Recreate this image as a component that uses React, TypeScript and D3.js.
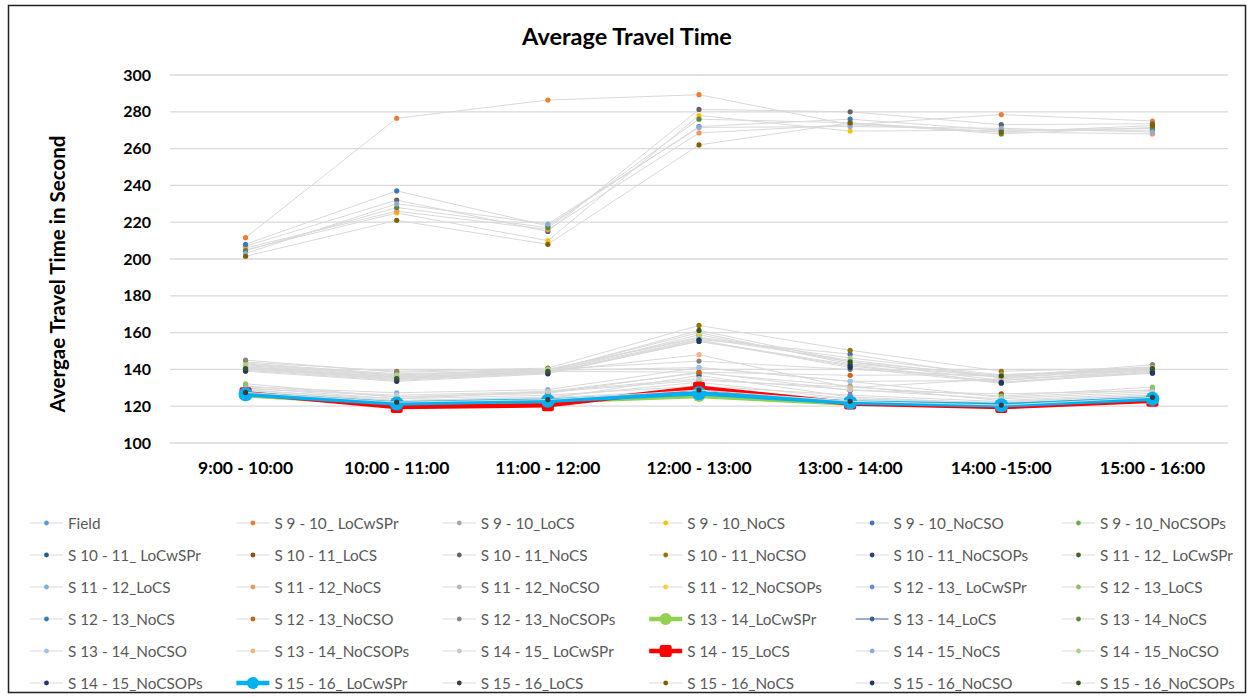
import React from "react";
import * as d3 from "d3";

// Hour slots along the x axis
const categories = [
  "9:00 - 10:00",
  "10:00 - 11:00",
  "11:00 - 12:00",
  "12:00 - 13:00",
  "13:00 - 14:00",
  "14:00 -15:00",
  "15:00 - 16:00",
];

const yTicks = [100, 120, 140, 160, 180, 200, 220, 240, 260, 280, 300];

// Series names, in legend order
const seriesNames = [
  "Field",
  "S 9 - 10_ LoCwSPr",
  "S 9 - 10_LoCS",
  "S 9 - 10_NoCS",
  "S 9 - 10_NoCSO",
  "S 9 - 10_NoCSOPs",
  "S 10 - 11_ LoCwSPr",
  "S 10 - 11_LoCS",
  "S 10 - 11_NoCS",
  "S 10 - 11_NoCSO",
  "S 10 - 11_NoCSOPs",
  "S 11 - 12_ LoCwSPr",
  "S 11 - 12_LoCS",
  "S 11 - 12_NoCS",
  "S 11 - 12_NoCSO",
  "S 11 - 12_NoCSOPs",
  "S 12 - 13_ LoCwSPr",
  "S 12 - 13_LoCS",
  "S 12 - 13_NoCS",
  "S 12 - 13_NoCSO",
  "S 12 - 13_NoCSOPs",
  "S 13 - 14_LoCwSPr",
  "S 13 - 14_LoCS",
  "S 13 - 14_NoCS",
  "S 13 - 14_NoCSO",
  "S 13 - 14_NoCSOPs",
  "S 14 - 15_ LoCwSPr",
  "S 14 - 15_LoCS",
  "S 14 - 15_NoCS",
  "S 14 - 15_NoCSO",
  "S 14 - 15_NoCSOPs",
  "S 15 - 16_ LoCwSPr",
  "S 15 - 16_LoCS",
  "S 15 - 16_NoCS",
  "S 15 - 16_NoCSO",
  "S 15 - 16_NoCSOPs",
];

// Average travel time (s) per hour slot, one row per series (same order as names)
const seriesValues: number[][] = [
  [129, 123, 125, 133, 124, 122, 126],
  [211.6, 276.5, 286.4, 289.3, 273, 278.5, 275],
  [130, 124, 128, 138, 131, 123, 127],
  [205, 225, 210, 278, 269.5, 270, 271],
  [141, 135.8, 139, 156.3, 148.3, 135.3, 140],
  [140.5, 135, 138.5, 158.8, 144, 134, 139.5],
  [128, 122.5, 124, 136.7, 125, 121.5, 125],
  [131, 125, 127, 138.5, 128.6, 126.7, 128.6],
  [207, 232, 215, 281.3, 280, 273, 273.5],
  [144, 139, 140.7, 163.9, 150.4, 139, 141],
  [139.5, 134, 138, 155.2, 141.9, 133, 139],
  [127.5, 123, 124.5, 129, 124, 121, 125.5],
  [130.5, 127.3, 129, 141, 133.5, 124.8, 129],
  [206, 226, 216, 268.5, 273, 269, 268],
  [143, 137, 140, 157, 145, 135.5, 140.5],
  [143.4, 137.6, 139.4, 160, 143, 136, 141.5],
  [128.5, 124, 126, 131, 126, 122.5, 126],
  [132.2, 125, 127.6, 134, 130.4, 125.5, 130.4],
  [208, 237, 218, 272, 276, 270, 270],
  [141.5, 136, 139, 138.5, 136.8, 137.2, 139.4],
  [145, 138.5, 140, 144.5, 140, 136, 142.6],
  [126, 121, 122.5, 125.5, 121.5, 120.5, 123.5],
  [127, 122, 123.5, 127.5, 122.5, 121, 124.5],
  [204.5, 228, 217, 276, 274, 268, 271.5],
  [142, 136.5, 139.5, 141, 133.5, 134, 140],
  [141, 135.5, 138.8, 148, 130, 135, 138],
  [129.5, 126, 128, 135, 129, 124, 128],
  [127, 119.5, 120.5, 130, 121.5, 119.5, 123],
  [203, 230, 219, 271.5, 272, 271, 269],
  [142.5, 137, 140, 157.5, 146.2, 137, 141],
  [140, 134.5, 138.2, 156, 141, 132.5, 138.5],
  [126.5, 121.5, 123, 127, 122, 120.5, 124],
  [127.5, 122.2, 123.6, 128.8, 122.7, 120.6, 124.8],
  [201.5, 221, 208, 262, 274, 269, 272.5],
  [139, 133.5, 137.6, 155.5, 142.5, 133, 137.9],
  [140.5, 135, 139, 161.2, 144.1, 136.5, 140.5],
];

// Marker colours (Office palette cycle)
const seriesColors = [
  "#5B9BD5", "#ED7D31", "#A5A5A5", "#FFC000", "#4472C4", "#70AD47",
  "#255E91", "#9E480E", "#636363", "#997300", "#264478", "#43682B",
  "#7CAFDD", "#F1975A", "#B7B7B7", "#FFCD33", "#698ED0", "#8CC168",
  "#327DC2", "#D26012", "#848484", "#92D050", "#3A5DA0", "#5A8A39",
  "#9DC3E6", "#F4B183", "#C9C9C9", "#FF0000", "#8FAADC", "#A9D18E",
  "#1F3864", "#00B0F0", "#3B3B3B", "#7F6000", "#203864", "#375623",
];

type Style = { line: string; width: number; marker: "circle" | "square"; size: number };

function styleFor(i: number): Style {
  const name = seriesNames[i];
  if (name === "S 13 - 14_LoCwSPr") return { line: "#92D050", width: 4.5, marker: "circle", size: 6 };
  if (name === "S 14 - 15_LoCS") return { line: "#FF0000", width: 4.5, marker: "square", size: 12 };
  if (name === "S 15 - 16_ LoCwSPr") return { line: "#00B0F0", width: 4.5, marker: "circle", size: 7 };
  if (name === "S 13 - 14_LoCS") return { line: "#3A5DA0", width: 1, marker: "circle", size: 2.6 };
  return { line: "#D9D9D9", width: 1, marker: "circle", size: 2.6 };
}

const W = 1249;
const H = 698;
const plot = { left: 170, right: 1228, top: 75, bottom: 443 };

export default function App() {
  const x = d3
    .scalePoint<string>()
    .domain(categories)
    .range([plot.left, plot.right])
    .padding(0.5);
  const y = d3.scaleLinear().domain([100, 300]).range([plot.bottom, plot.top]);
  const line = d3
    .line<number>()
    .x((_, j) => x(categories[j]) as number)
    .y((v) => y(v));

  const font = "Lato, 'Open Sans', sans-serif";
  const legendCols = 6;
  const legendX0 = 30;
  const legendDX = 206.4;
  const legendY0 = 523;
  const legendDY = 32;

  const marker = (st: Style, cx: number, cy: number, color: string, key: string | number) =>
    st.marker === "square" ? (
      <rect
        key={key}
        x={cx - st.size / 2}
        y={cy - st.size / 2}
        width={st.size}
        height={st.size}
        rx={2}
        fill={color}
      />
    ) : (
      <circle key={key} cx={cx} cy={cy} r={st.size} fill={color} />
    );

  return (
    <svg
      width={W}
      height={H}
      style={{ position: "absolute", left: 0, top: 0, background: "#fff" }}
      fontFamily={font}
    >
      <rect x={0} y={0} width={W} height={H} fill="#fff" />
      <rect x={8.5} y={5.5} width={1237} height={687} fill="none" stroke="#222" strokeWidth={1.5} />

      <text x={627} y={45} textAnchor="middle" fontSize={23.5} fontWeight={700} fill="#000">
        Average Travel Time
      </text>

      {/* grid and y ticks */}
      {yTicks.map((t) => (
        <g key={t}>
          <line x1={plot.left} x2={plot.right} y1={y(t)} y2={y(t)} stroke="#D9D9D9" strokeWidth={1.3} />
          <text x={151} y={y(t) + 5.5} textAnchor="end" fontSize={16} fontWeight={700} fill="#000">
            {t}
          </text>
        </g>
      ))}

      <text
        transform={`translate(65,${274}) rotate(-90)`}
        textAnchor="middle"
        fontSize={20.5}
        fontWeight={700}
        fill="#000"
      >
        Avergae Travel Time in Second
      </text>

      {categories.map((c) => (
        <text key={c} x={x(c)} y={474} textAnchor="middle" fontSize={17.5} fontWeight={700} fill="#000">
          {c}
        </text>
      ))}

      {/* series: line then markers, drawn in series order */}
      {seriesValues.map((vals, i) => {
        const st = styleFor(i);
        return (
          <g key={seriesNames[i]}>
            <path d={line(vals) || ""} fill="none" stroke={st.line} strokeWidth={st.width} strokeLinejoin="round" />
            {vals.map((v, j) => marker(st, x(categories[j]) as number, y(v), seriesColors[i], j))}
          </g>
        );
      })}

      {/* legend */}
      {seriesNames.map((name, i) => {
        const col = i % legendCols;
        const row = Math.floor(i / legendCols);
        const lx = legendX0 + col * legendDX;
        const ly = legendY0 + row * legendDY;
        const st = styleFor(i);
        const small = st.size < 4;
        const ms: Style = small ? { ...st, size: 2.4 } : { ...st, size: st.marker === "square" ? 12 : 6 };
        return (
          <g key={name}>
            <line x1={lx} x2={lx + 33} y1={ly} y2={ly} stroke={st.line} strokeWidth={st.width} />
            {marker(ms, lx + 16.5, ly, seriesColors[i], "m")}
            <text x={lx + 38} y={ly + 5.5} fontSize={15.3} fill="#595959">
              {name}
            </text>
          </g>
        );
      })}
    </svg>
  );
}
